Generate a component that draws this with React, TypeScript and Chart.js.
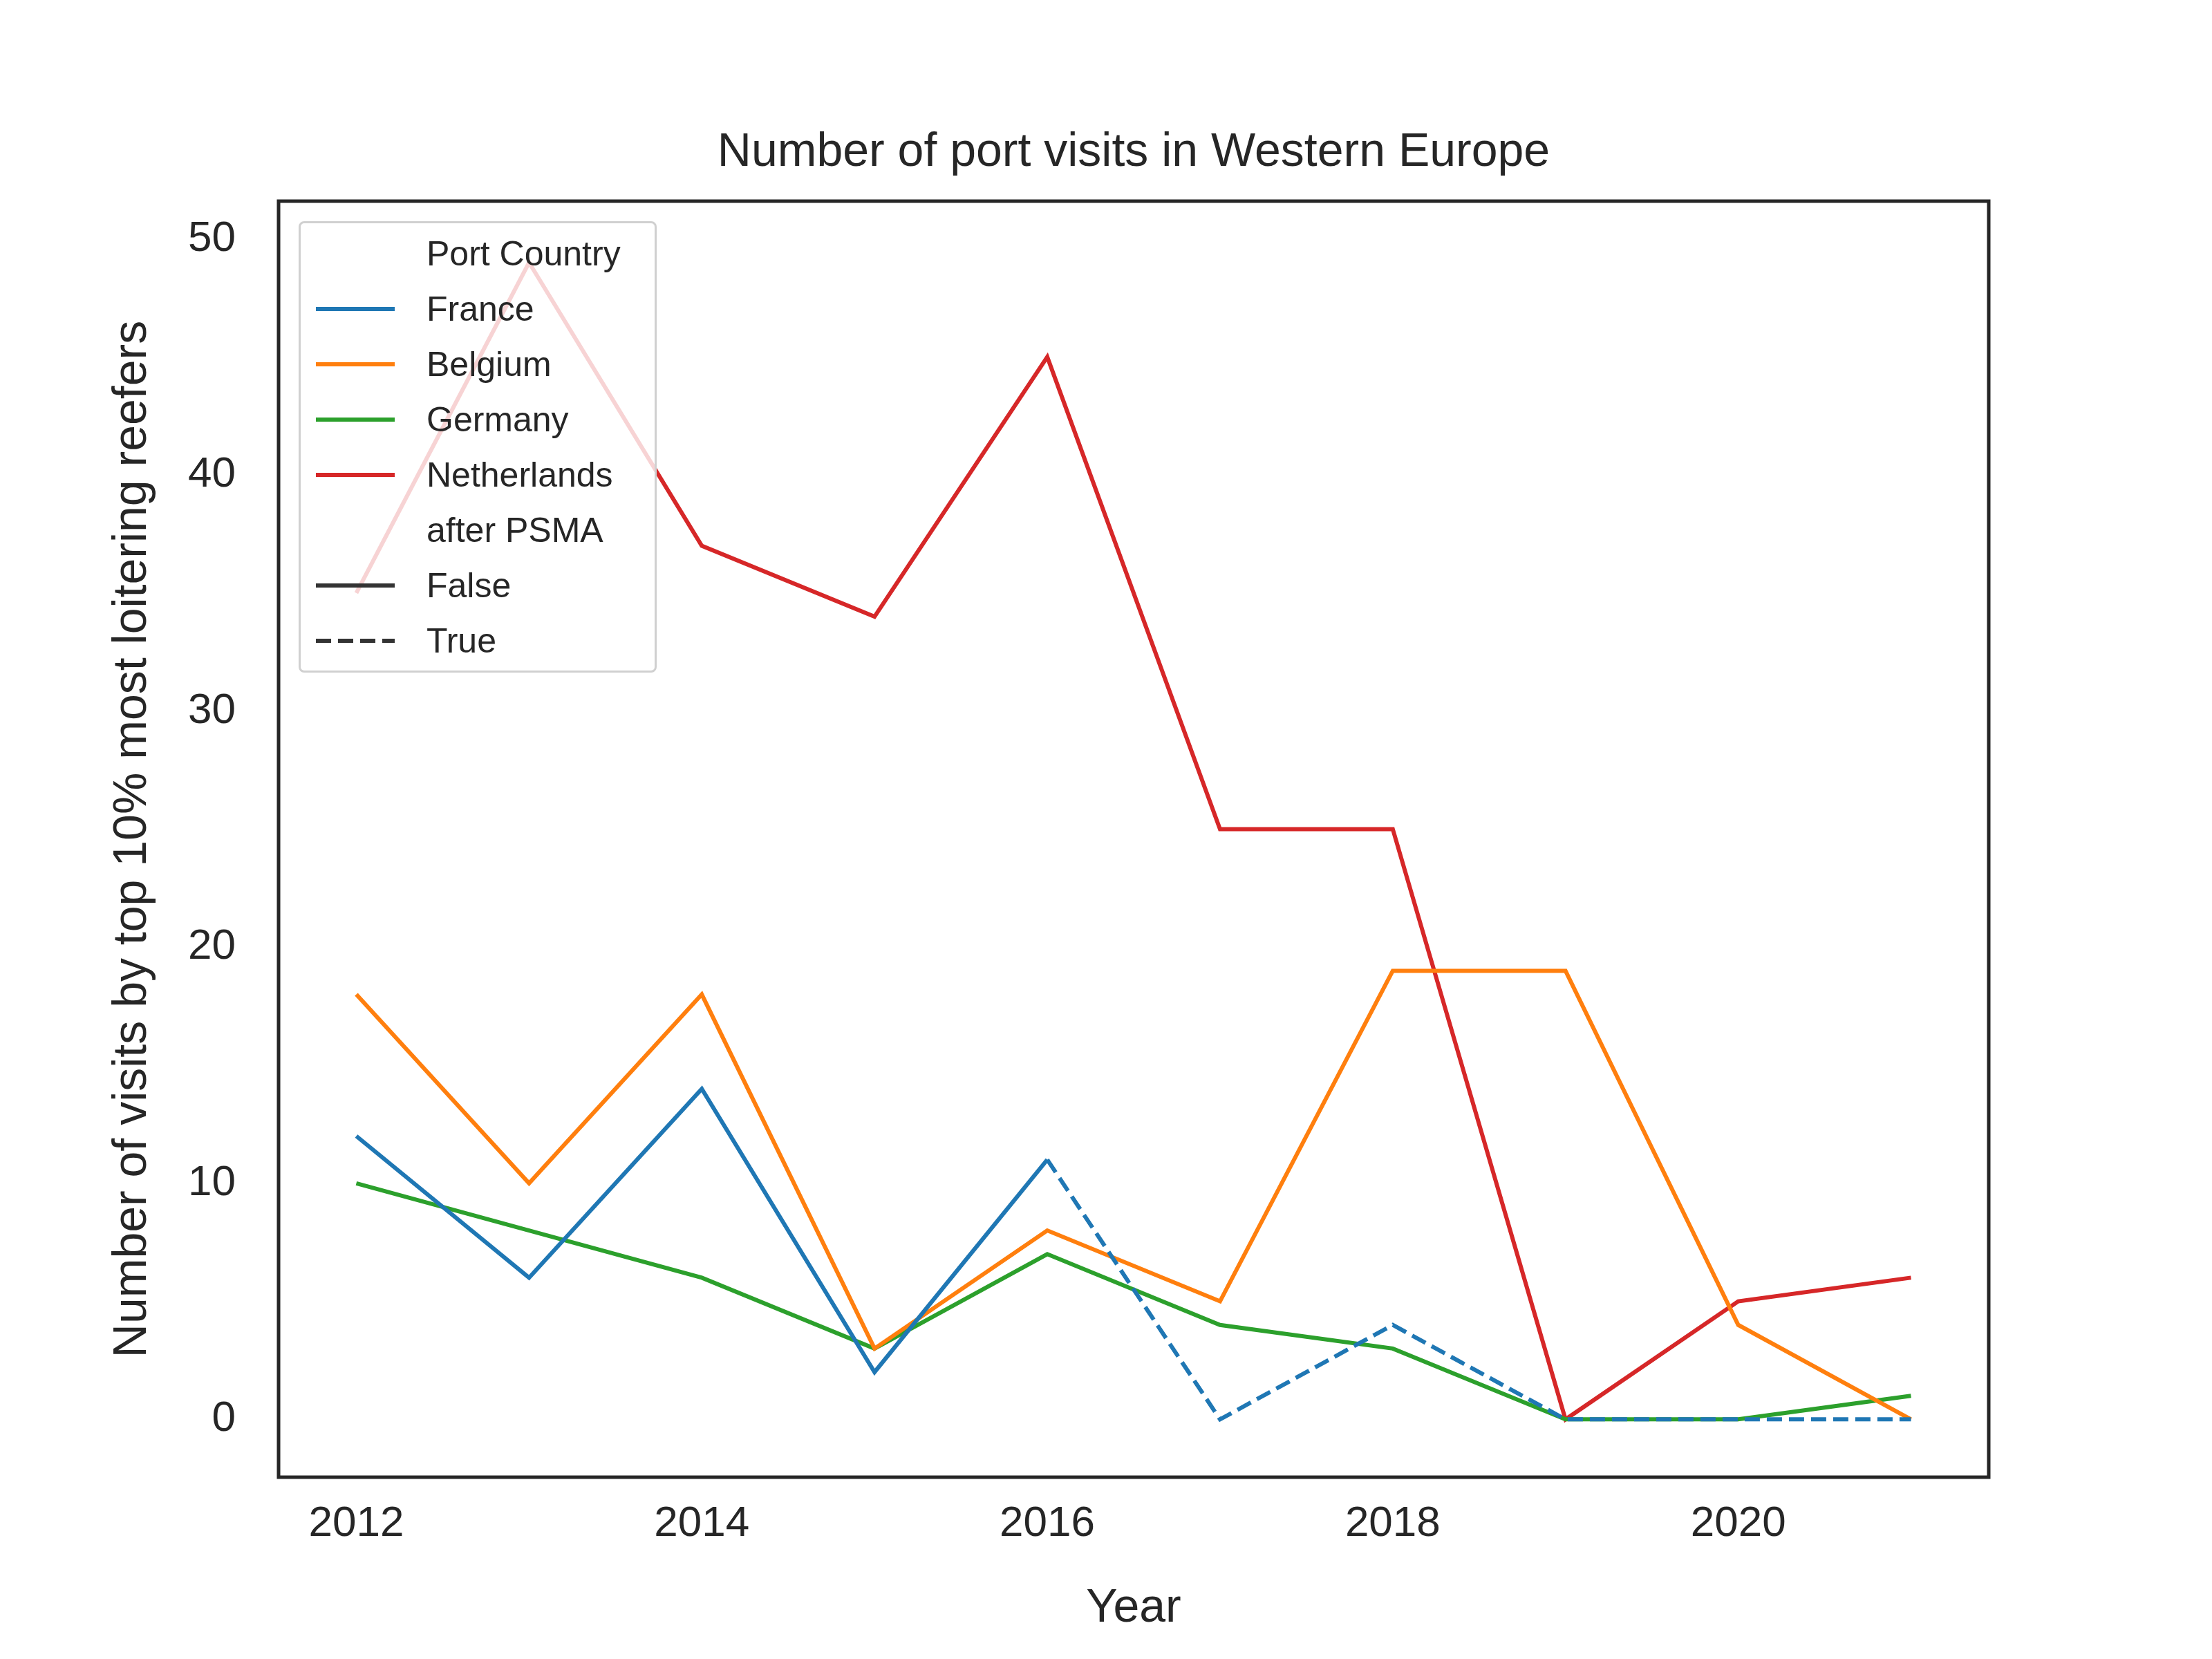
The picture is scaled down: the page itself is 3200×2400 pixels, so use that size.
import { useEffect, useRef } from 'react'
import { Chart, registerables } from 'chart.js'

Chart.register(...registerables)

const years = [2012, 2013, 2014, 2015, 2016, 2017, 2018, 2019, 2020, 2021]
const france = [12, 6, 14, 2, 11, 0, 4, 0, 0, 0]
const belgium = [18, 10, 18, 3, 8, 5, 19, 19, 4, 0]
const germany = [10, 8, 6, 3, 7, 4, 3, 0, 0, 1]
const netherlands = [35, 49, 37, 34, 45, 25, 25, 0, 5, 6]
const xTicks = [2012, 2014, 2016, 2018, 2020]
const yTicks = [0, 10, 20, 30, 40, 50]
// first year counted as "after PSMA" for France
const psmaYear = 2016
const titleText = 'Number of port visits in Western Europe'

const FONT = '"Liberation Sans", Arial, sans-serif'
const INK = '#262626'

const series = [
  { label: 'France', data: france, color: '#1f77b4' },
  { label: 'Belgium', data: belgium, color: '#ff7f0e' },
  { label: 'Germany', data: germany, color: '#2ca02c' },
  { label: 'Netherlands', data: netherlands, color: '#d62728' },
]

const legendRows = [
  { text: 'Port Country' },
  ...series.map((s) => ({ text: s.label, color: s.color })),
  { text: 'after PSMA' },
  { text: 'False', color: '#333333' },
  { text: 'True', color: '#333333', dashed: true },
]

const frame = {
  id: 'frame',
  afterDraw(chart: any) {
    const { left, top, width, height } = chart.chartArea
    const ctx = chart.ctx
    ctx.save()
    ctx.strokeStyle = INK
    ctx.lineWidth = 5
    ctx.strokeRect(left, top, width, height)
    // title centred over the plot area
    ctx.fillStyle = INK
    ctx.font = `68px ${FONT}`
    ctx.textAlign = 'center'
    ctx.textBaseline = 'middle'
    ctx.fillText(titleText, left + width / 2, 221)
    ctx.restore()
  },
}

const App = () => {
  const canvasRef = useRef(null)

  useEffect(() => {
    const chart = new Chart(canvasRef.current!, {
      type: 'line',
      data: {
        datasets: series.map((s) => ({
          label: s.label,
          data: s.data.map((v, i) => ({ x: years[i], y: v })),
          borderColor: s.color,
          backgroundColor: s.color,
          borderWidth: 6,
          pointRadius: 0,
          tension: 0,
          segment:
            s.label === 'France'
              ? { borderDash: (ctx: any) => (ctx.p0.parsed.x >= psmaYear ? [22, 10] : undefined) }
              : undefined,
        })),
      },
      plugins: [frame],
      options: {
        animation: false,
        responsive: false,
        devicePixelRatio: 1,
        layout: { padding: { left: 0, right: 323, top: 291, bottom: 0 } },
        plugins: {
          legend: { display: false },
          tooltip: { enabled: false },
          title: { display: false },
        },
        scales: {
          x: {
            type: 'linear',
            min: 2011.55,
            max: 2021.45,
            grid: { display: false, drawTicks: false },
            border: { display: false },
            afterBuildTicks: (axis: any) => {
              axis.ticks = xTicks.map((v) => ({ value: v }))
            },
            afterFit: (axis: any) => {
              axis.height = 263
            },
            ticks: {
              autoSkip: false,
              color: INK,
              padding: 31,
              font: { family: FONT, size: 62 },
              callback: (v: any) => String(v),
            },
            title: {
              display: true,
              text: 'Year',
              color: INK,
              font: { family: FONT, size: 68 },
              padding: { top: 0, bottom: 32 },
            },
          },
          y: {
            min: -2.45,
            max: 51.6,
            grid: { display: false, drawTicks: false },
            border: { display: false },
            afterBuildTicks: (axis: any) => {
              axis.ticks = yTicks.map((v) => ({ value: v }))
            },
            afterFit: (axis: any) => {
              axis.width = 403
            },
            ticks: {
              autoSkip: false,
              color: INK,
              padding: 62,
              font: { family: FONT, size: 62 },
            },
            title: {
              display: true,
              text: 'Number of visits by top 10% most loitering reefers',
              color: INK,
              font: { family: FONT, size: 68 },
              padding: { top: 151, bottom: 0 },
            },
          },
        },
      },
    } as any)

    return () => chart.destroy()
  }, [])

  return (
    <div style={{ position: 'absolute', left: 0, top: 0, width: 3200, height: 2400, background: '#fff' }}>
      <canvas ref={canvasRef} width={3200} height={2400} style={{ width: 3200, height: 2400 }}></canvas>
      <div
        style={{
          position: 'absolute',
          left: 432,
          top: 320,
          width: 518,
          height: 653,
          boxSizing: 'border-box',
          border: '3px solid #d0d0d0',
          borderRadius: 8,
          background: 'rgba(255,255,255,0.8)',
          fontFamily: FONT,
          fontSize: 50,
          color: INK,
        }}
      >
        {legendRows.map((r, i) => (
          <div
            key={i}
            style={{ position: 'absolute', left: 0, top: 44 + i * 80 - 35, height: 70, display: 'flex', alignItems: 'center' }}
          >
            <svg width={160} height={20} style={{ marginLeft: 22 }}>
              {r.color && (
                <line
                  x1={0}
                  y1={10}
                  x2={114}
                  y2={10}
                  stroke={r.color}
                  strokeWidth={6}
                  strokeDasharray={r.dashed ? '22 10' : undefined}
                />
              )}
            </svg>
            <span style={{ whiteSpace: 'nowrap' }}>{r.text}</span>
          </div>
        ))}
      </div>
    </div>
  )
}

export default App
